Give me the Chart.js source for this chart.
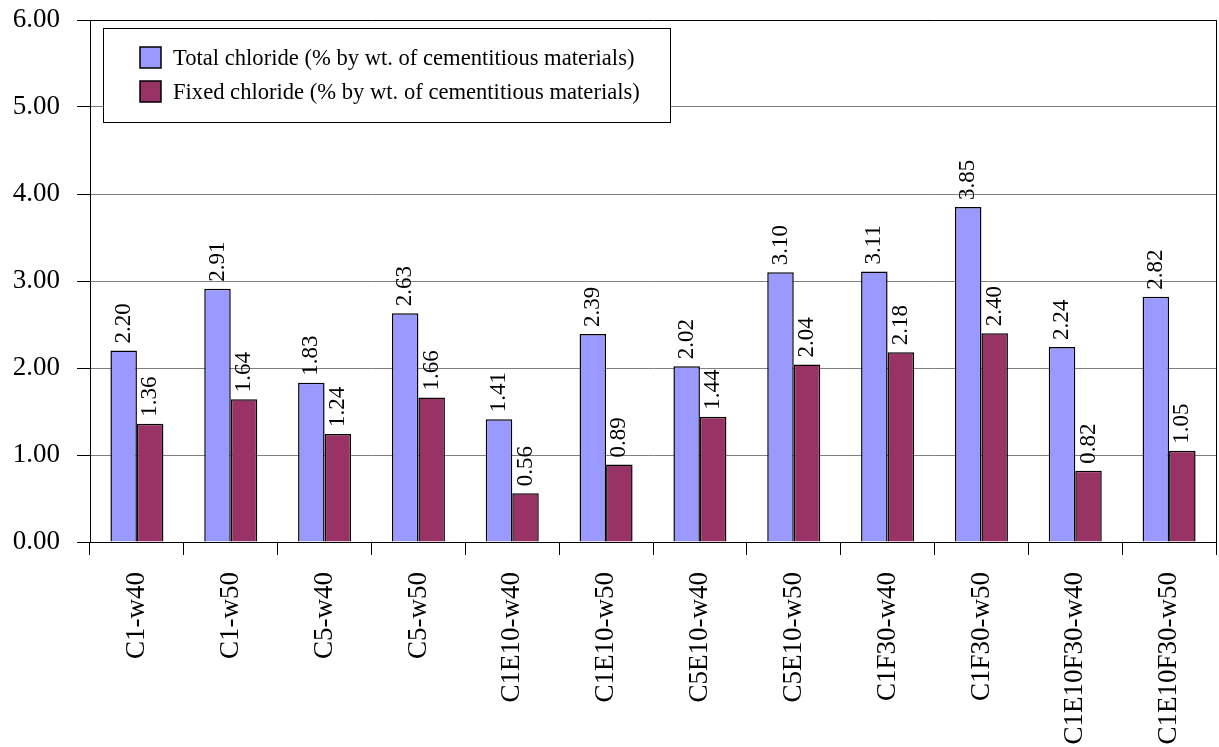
<!DOCTYPE html>
<html>
<head>
<meta charset="utf-8">
<script src="https://cdn.jsdelivr.net/npm/chart.js@4/dist/chart.umd.min.js"></script>
<style>
html,body{margin:0;padding:0;background:#fff;}
#c{display:block;}
</style>
</head>
<body>
<canvas id="c" width="1219" height="747"></canvas>
<script>
const categories = ["C1-w40","C1-w50","C5-w40","C5-w50","C1E10-w40","C1E10-w50","C5E10-w40","C5E10-w50","C1F30-w40","C1F30-w50","C1E10F30-w40","C1E10F30-w50"];
const totalChloride = [2.20, 2.91, 1.83, 2.63, 1.41, 2.39, 2.02, 3.10, 3.11, 3.85, 2.24, 2.82];
const fixedChloride = [1.36, 1.64, 1.24, 1.66, 0.56, 0.89, 1.44, 2.04, 2.18, 2.40, 0.82, 1.05];
const seriesNames = ["Total chloride (% by wt. of cementitious materials)", "Fixed chloride (% by wt. of cementitious materials)"];
const seriesColors = ["#9999FF", "#993366"];

const FONT = "'Liberation Serif', 'Times New Roman', serif";

const overlay = {
  id: 'overlay',
  afterDatasetsDraw(chart) {
    const ctx = chart.ctx;
    const area = chart.chartArea;
    ctx.save();
    ctx.strokeStyle = '#000';
    ctx.lineWidth = 1;
    ctx.beginPath();
    ctx.moveTo(Math.round(area.right) + 0.5, area.top);
    ctx.lineTo(Math.round(area.right) + 0.5, area.bottom);
    ctx.stroke();
    ctx.restore();
    chart.data.datasets.forEach((ds, di) => {
      const meta = chart.getDatasetMeta(di);
      meta.data.forEach((el, i) => {
        ctx.save();
        ctx.translate(el.x, el.y - 7);
        ctx.rotate(-Math.PI / 2);
        ctx.font = "23px " + FONT;
        ctx.fillStyle = '#000';
        ctx.textAlign = 'left';
        ctx.textBaseline = 'middle';
        ctx.fillText(ds.data[i].toFixed(2), 0, 0);
        ctx.restore();
      });
    });
    ctx.save();
    ctx.fillStyle = '#fff';
    ctx.fillRect(103, 28, 567, 94);
    ctx.strokeStyle = '#000';
    ctx.lineWidth = 1;
    ctx.strokeRect(103.5, 28.5, 567, 94);
    const rows = [57, 91];
    seriesNames.forEach((name, i) => {
      ctx.fillStyle = seriesColors[i];
      ctx.fillRect(140, rows[i] - 10, 21, 21);
      ctx.strokeStyle = '#000';
      ctx.lineWidth = 1.5;
      ctx.strokeRect(140, rows[i] - 10, 21, 21);
      ctx.fillStyle = '#000';
      ctx.font = "22.6px " + FONT;
      ctx.textAlign = 'left';
      ctx.textBaseline = 'middle';
      ctx.fillText(name, 173, rows[i] + 2);
    });
    ctx.restore();
  }
};

new Chart(document.getElementById('c'), {
  type: 'bar',
  data: {
    labels: categories,
    datasets: [
      { label: seriesNames[0], data: totalChloride, backgroundColor: seriesColors[0], borderColor: '#000', borderWidth: 1.5, categoryPercentage: 0.565, barPercentage: 1.0 },
      { label: seriesNames[1], data: fixedChloride, backgroundColor: seriesColors[1], borderColor: '#000', borderWidth: 1.5, categoryPercentage: 0.565, barPercentage: 1.0 }
    ]
  },
  options: {
    responsive: false,
    animation: false,
    layout: { padding: { top: 20, right: 3, left: 0, bottom: 0 } },
    plugins: { legend: { display: false }, tooltip: { enabled: false } },
    scales: {
      x: {
        grid: { offset: true, drawOnChartArea: false, drawTicks: true, tickLength: 13, tickColor: '#000' },
        border: { color: '#000', width: 1 },
        ticks: { maxRotation: 90, minRotation: 90, padding: 17, color: '#000', font: { family: FONT, size: 27 } },
        afterFit(s) { s.height = 205; s.paddingLeft = 0; s.paddingRight = 0; }
      },
      y: {
        min: 0, max: 6,
        grid: {
          color: (c) => (c.tick && c.tick.value === 6) ? '#000' : '#808080',
          tickColor: '#000', tickLength: 13, lineWidth: 1
        },
        border: { color: '#000', width: 1 },
        ticks: { stepSize: 1, padding: 17, color: '#000', font: { family: FONT, size: 27 }, callback: (v) => Number(v).toFixed(2) },
        afterFit(s) { s.width = 90; s.paddingTop = 0; s.paddingBottom = 0; }
      }
    }
  },
  plugins: [overlay]
});
</script>
</body>
</html>
